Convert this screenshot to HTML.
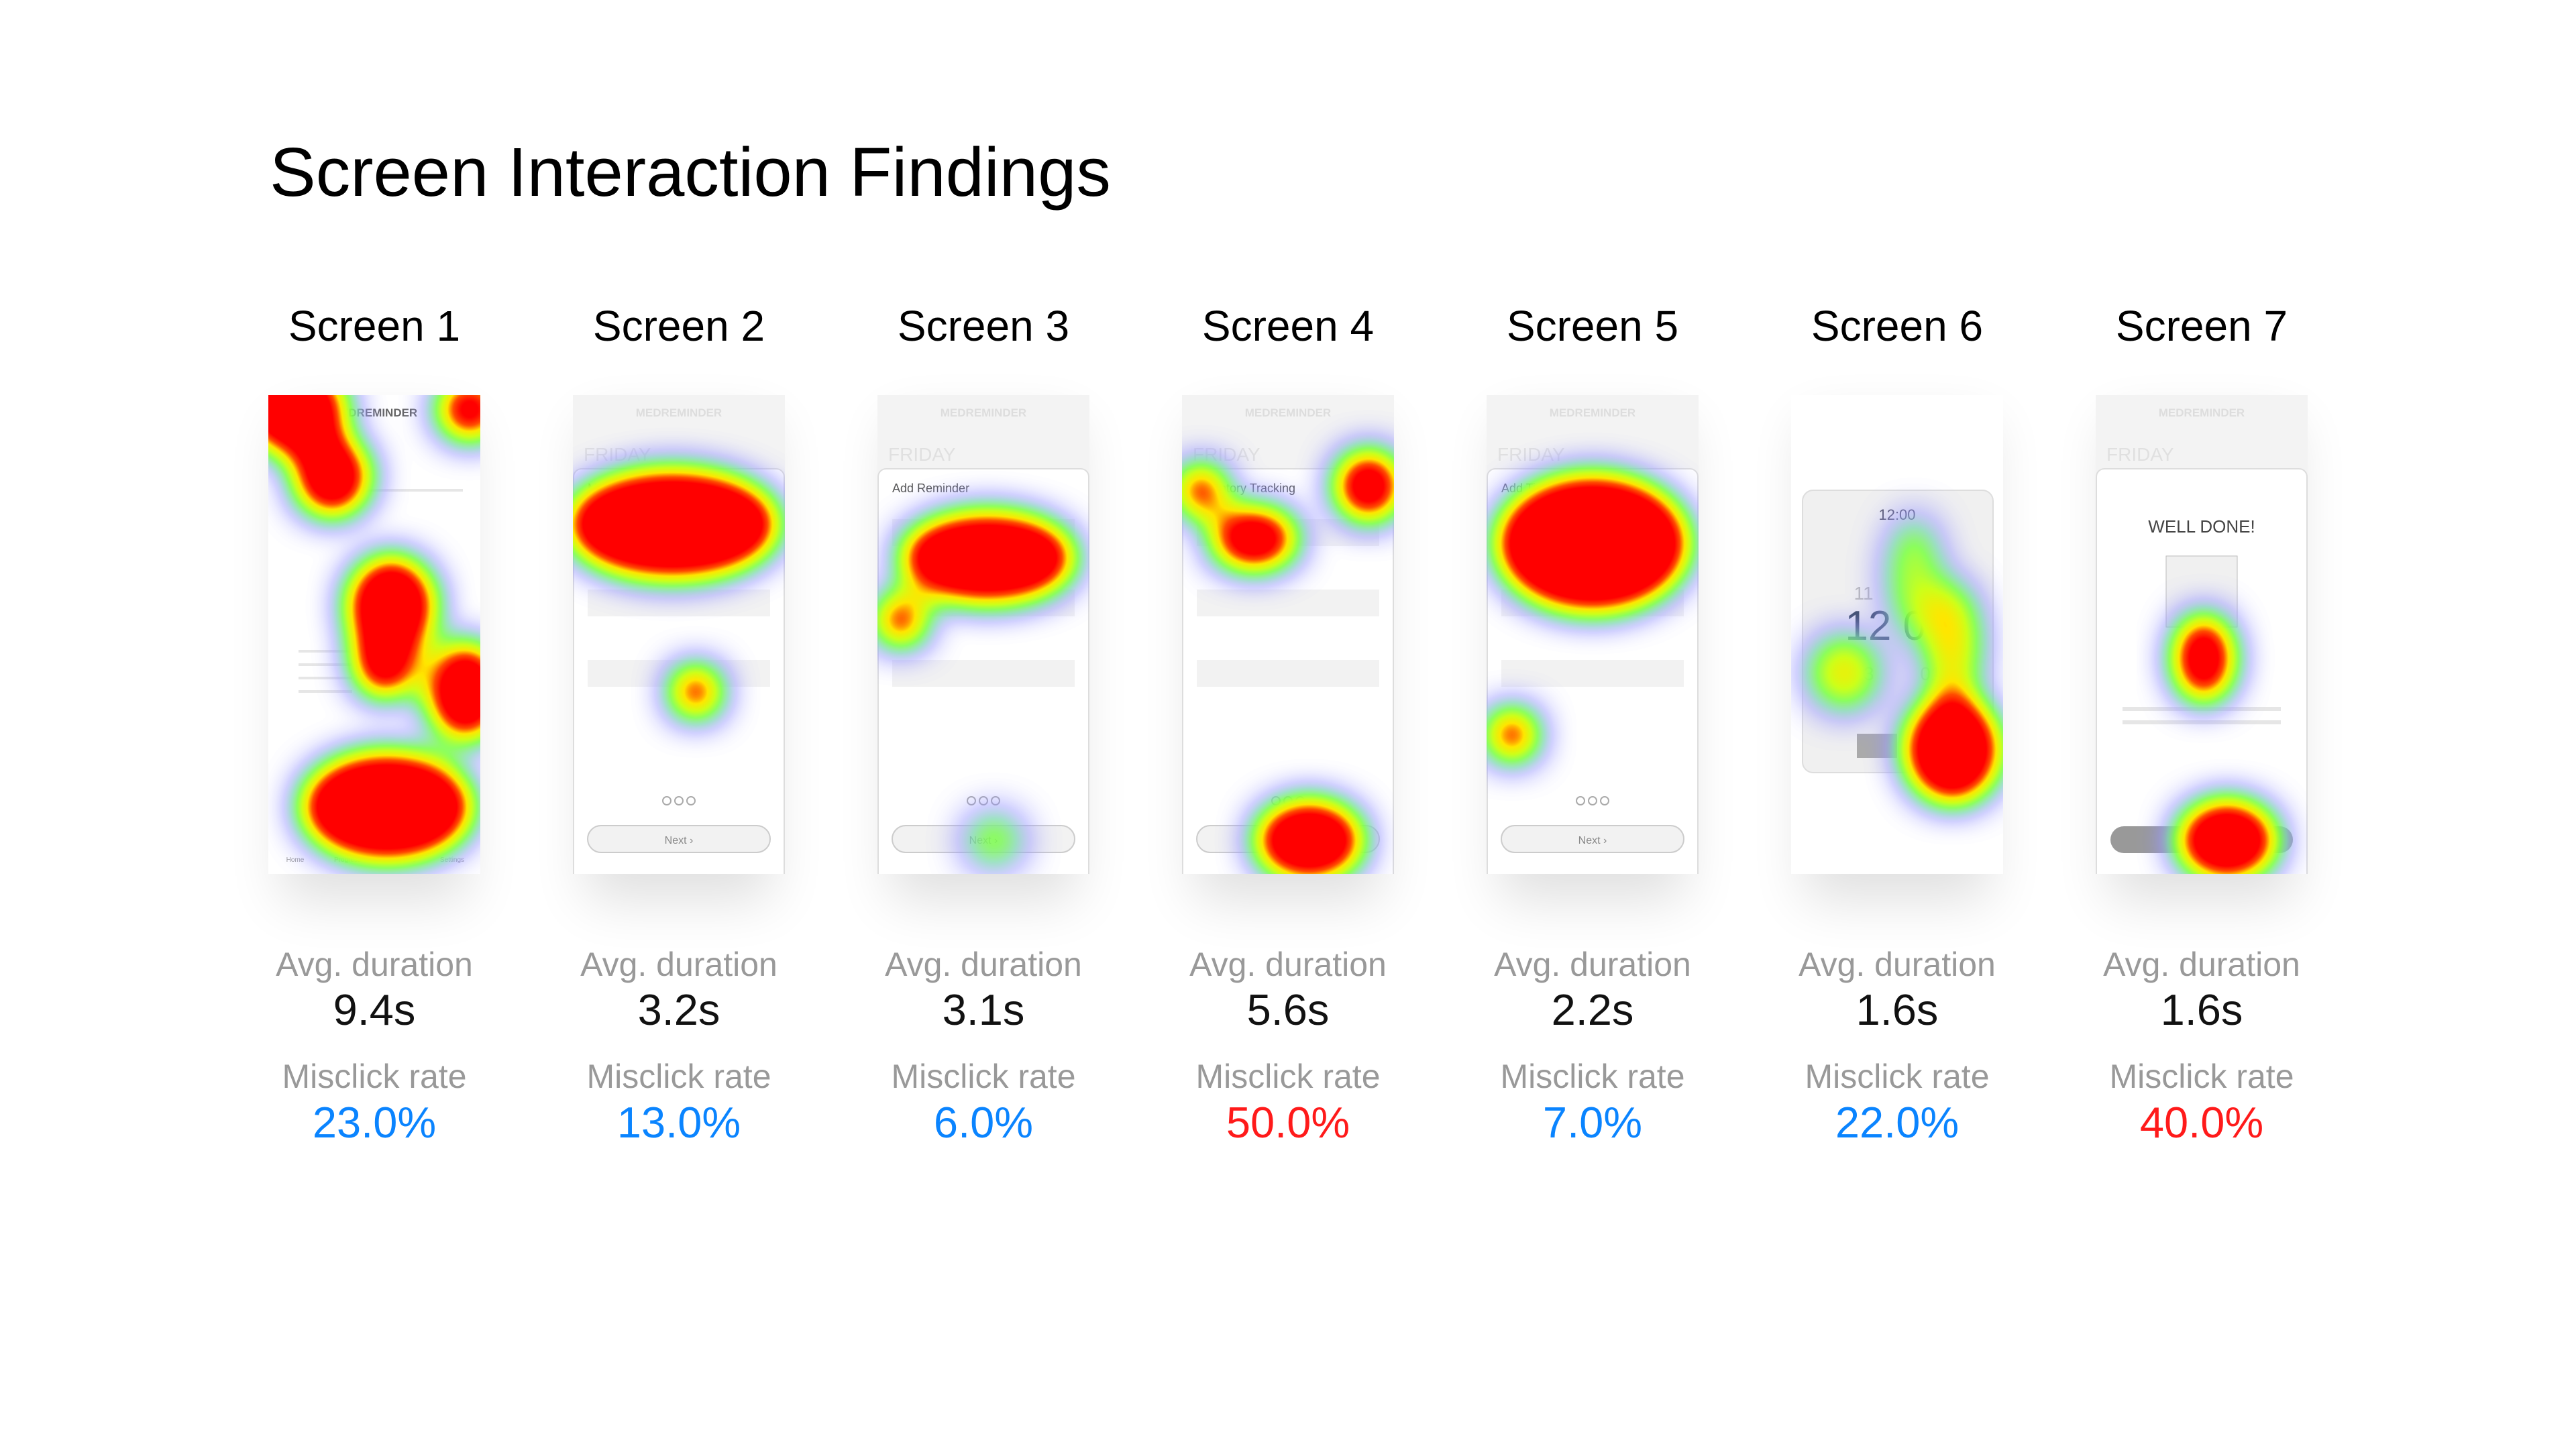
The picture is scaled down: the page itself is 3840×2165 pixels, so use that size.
<!DOCTYPE html>
<html><head><meta charset="utf-8">
<style>
html,body{margin:0;padding:0;background:#fff;}
body{width:3840px;height:2160px;overflow:hidden;font-family:"Liberation Sans",sans-serif;}
</style></head>
<body>
<svg id="chart" width="3840" height="2160" viewBox="0 0 3840 2160" xmlns="http://www.w3.org/2000/svg">
<defs>
<filter id="heat" x="-40%" y="-40%" width="180%" height="180%" color-interpolation-filters="sRGB">
<feGaussianBlur in="SourceAlpha" stdDeviation="28"/>
<feColorMatrix type="matrix" values="0 0 0 1 0  0 0 0 1 0  0 0 0 1 0  0 0 0 1 0"/>
<feComponentTransfer>
<feFuncR type="table" tableValues="0.55 0.6 0.5 0.5 0.8 1 1 1 1 1 1"/>
<feFuncG type="table" tableValues="0.55 0.6 0.85 1 1 0.9 0.3 0 0 0 0"/>
<feFuncB type="table" tableValues="1 1 0.7 0.3 0.1 0 0 0 0 0 0"/>
<feFuncA type="table" tableValues="0 0.45 0.75 0.9 1 1 1 1 1 1 1"/>
</feComponentTransfer>
</filter>
<filter id="shadow" x="-40%" y="-20%" width="180%" height="140%">
<feGaussianBlur stdDeviation="40"/>
</filter>
</defs>
<text x="402" y="292" font-size="103" fill="#000">Screen Interaction Findings</text>
<g id="cards"></g>
</svg>
<script>
const screens = ["Screen 1","Screen 2","Screen 3","Screen 4","Screen 5","Screen 6","Screen 7"];
const durations = [9.4,3.2,3.1,5.6,2.2,1.6,1.6];
const misclicks = [23.0,13.0,6.0,50.0,7.0,22.0,40.0];
// hotspots per screen: [cx, cy, rx, ry, intensity] in card fractions
const spots = [
 [[0.12,0.03,0.24,0.09,1],[0.3,0.17,0.17,0.08,1],[0.95,0.03,0.14,0.06,1],[0.58,0.44,0.2,0.1,1],[0.55,0.55,0.14,0.08,1],[0.93,0.62,0.17,0.1,1],[0.56,0.86,0.4,0.11,1]],
 [[0.47,0.27,0.5,0.11,1],[0.58,0.62,0.11,0.05,1]],
 [[0.52,0.34,0.41,0.09,1],[0.11,0.47,0.11,0.05,1],[0.55,0.93,0.14,0.06,0.4]],
 [[0.09,0.2,0.11,0.05,1],[0.88,0.19,0.15,0.07,1],[0.34,0.3,0.2,0.06,1],[0.6,0.93,0.25,0.08,1]],
 [[0.5,0.31,0.45,0.14,1],[0.12,0.71,0.11,0.05,1]],
 [[0.76,0.74,0.22,0.11,1],[0.25,0.58,0.17,0.08,0.5],[0.58,0.38,0.13,0.13,0.4],[0.76,0.52,0.13,0.13,0.55]],
 [[0.51,0.55,0.13,0.09,1],[0.62,0.93,0.23,0.08,1]]
];
const X0=400, PITCH=454, TOP=589, W=316, H=714;
const NS="http://www.w3.org/2000/svg";
const root=document.getElementById('cards');
function mk(tag,attrs,parent){const e=document.createElementNS(NS,tag);for(const k in attrs)e.setAttribute(k,attrs[k]);parent.appendChild(e);return e;}
function txt(parent,x,y,s,size,fill,anchor,weight){const t=mk('text',{x:x,y:y,'font-size':size,fill:fill,'text-anchor':anchor||'start','font-weight':weight||'normal'},parent);t.textContent=s;return t;}
screens.forEach((name,i)=>{
 const left=X0+i*PITCH, cx=left+W/2;
 const g=mk('g',{},root);
 
 
 const lbl=txt(g,cx,508,name,64,'#000','middle');
 
 
 mk('rect',{x:left+20,y:TOP+40,width:W-40,height:H,fill:'#000',opacity:0.12,filter:'url(#shadow)'},g);
 const clip=mk('clipPath',{id:'c'+i},g);
 mk('rect',{x:left,y:TOP,width:W,height:H},clip);
 const card=mk('g',{'clip-path':'url(#c'+i+')'},g);
 
 
 mk('rect',{x:left,y:TOP,width:W,height:H,fill:'#fff'},card);
 if(i===0){
  txt(card,cx,TOP+32,'MEDREMINDER',17,'#666','middle','bold');
  mk('rect',{x:left+110,y:TOP+140,width:180,height:4,fill:'#e6e6e6'},card);
  [0,1,2,3].forEach(k=>mk('rect',{x:left+45,y:TOP+380+k*20,width:80,height:4,fill:'#e6e6e6'},card));
  ['Home','Progress','Caregivers','Settings'].forEach((s,k)=>txt(card,left+40+k*78,TOP+696,s,10,'#999','middle'));
 } else if(i===5){
  mk('rect',{x:left+17,y:TOP+142,width:284,height:421,rx:16,fill:'#f0f0f0',stroke:'#ddd','stroke-width':2},card);
  txt(card,cx,TOP+186,'12:00',22,'#556','middle');
  txt(card,cx,TOP+365,'12  00',62,'#345','middle');
  txt(card,cx-50,TOP+305,'11',28,'#bbb','middle');txt(card,cx+50,TOP+305,'60',28,'#bbb','middle');
  txt(card,cx-50,TOP+425,'13',28,'#ccc','middle');txt(card,cx+50,TOP+425,'01',28,'#ccc','middle');
  mk('rect',{x:left+98,y:TOP+505,width:60,height:36,fill:'#aaa'},card);
 } else {
  mk('rect',{x:left,y:TOP,width:W,height:125,fill:'#f3f3f3'},card);
  txt(card,cx,TOP+32,'MEDREMINDER',17,'#ddd','middle','bold');
  txt(card,left+16,TOP+98,'FRIDAY',28,'#e0e0e0');
  mk('rect',{x:left+1,y:TOP+110,width:W-2,height:H,rx:12,fill:'#fff',stroke:'#ddd','stroke-width':2},card);
  const heads=['','Medication info','Add Reminder','Inventory Tracking','Add Time Details','','WELL DONE!'];
  if(i===6){txt(card,cx,TOP+205,heads[i],26,'#444','middle');
   mk('rect',{x:left+105,y:TOP+240,width:106,height:106,fill:'#f0f0f0',stroke:'#bbb'},card);
   mk('rect',{x:left+40,y:TOP+465,width:236,height:6,fill:'#e6e6e6'},card);
   mk('rect',{x:left+40,y:TOP+485,width:236,height:6,fill:'#e6e6e6'},card);
   mk('rect',{x:left+22,y:TOP+643,width:272,height:40,rx:20,fill:'#999'},card);
  } else {
   txt(card,left+22,TOP+145,heads[i],18,'#555');
   [0,1,2].forEach(k=>mk('rect',{x:left+22,y:TOP+185+k*105,width:272,height:40,fill:'#f2f2f2'},card));
   mk('rect',{x:left+22,y:TOP+642,width:272,height:40,rx:20,fill:'#f2f2f2',stroke:'#ccc','stroke-width':2},card);
   txt(card,cx,TOP+669,'Next ›',16,'#888','middle');
   [-18,0,18].forEach(d=>mk('circle',{cx:cx+d,cy:TOP+605,r:6,fill:'#fff',stroke:'#aaa','stroke-width':2},card));
  }
 }
 const heat=mk('g',{filter:'url(#heat)'},card);
 
 
 spots[i].forEach(s=>{
  const e=mk('ellipse',{cx:left+s[0]*W,cy:TOP+s[1]*H,rx:s[2]*W,ry:s[3]*H,fill:'#000','fill-opacity':s[4]},heat);
  
  
 });
 const a=txt(g,cx,1455,'Avg. duration',50,'#999','middle');
 
 
 const d=txt(g,cx,1528,durations[i].toFixed(1)+'s',65,'#111','middle');
 
 
 const m=txt(g,cx,1622,'Misclick rate',50,'#999','middle');
 
 
 const p=txt(g,cx,1696,misclicks[i].toFixed(1)+'%',65,misclicks[i]>=30?'#ff1a1a':'#0a84ff','middle');
 
 
});
</script>
</body></html>
